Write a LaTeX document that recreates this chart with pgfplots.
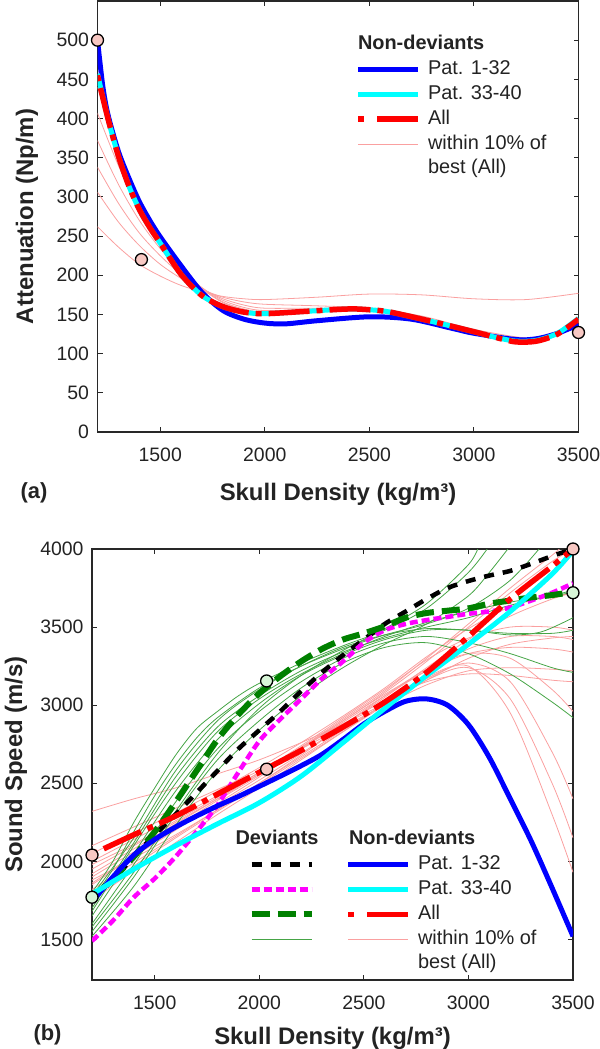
\documentclass[border=0pt]{standalone}
\usepackage{fontspec}
\setmainfont{Liberation Sans}
\usepackage{pgfplots}
\pgfplotsset{compat=1.18}
\definecolor{pinkthin}{RGB}{250,160,160}
\definecolor{greenthin}{RGB}{70,165,70}
\definecolor{dgreen}{RGB}{0,128,0}
\definecolor{cpink}{RGB}{248,200,195}
\definecolor{cgreen}{RGB}{215,245,215}
\definecolor{spine}{RGB}{40,40,40}
\definecolor{txt}{RGB}{35,35,35}
\definecolor{cBlue}{RGB}{0,0,255}
\definecolor{cCyan}{RGB}{0,255,255}
\definecolor{cRed}{RGB}{255,0,0}
\definecolor{cMag}{RGB}{255,0,255}
\pgfplotsset{
 base/.style={
  scale only axis, width=481bp, height=431bp,
  xmin=1200, xmax=3500,
  xtick={1500,2000,2500,3000,3500},
  tick align=inside, major tick length=5bp,
  axis line style={spine, line width=1.3bp},
  tick style={spine, line width=1.1bp},
  /pgf/number format/assume math mode=true,
  /pgf/number format/set thousands separator={},
  tick label style={font=\fontsize{19.5}{22}\selectfont, text=txt},
  xticklabel style={yshift=-12bp},
  yticklabel style={xshift=-5bp},
  label style={font=\bfseries\fontsize{24}{28}\selectfont, text=txt},
  legend style={draw=none, fill=none, font=\fontsize{20}{23}\selectfont, text=txt,
    column sep=0pt, row sep=3bp, inner sep=0pt,
    nodes={inner xsep=7bp, inner ysep=1bp, text height=15bp, text depth=5bp}},
  legend cell align=left,
  legend image code/.code={\draw[#1] (0bp,0bp) -- (60bp,0bp);},
 },
 thinp/.style={pinkthin, line width=0.8bp, smooth, forget plot},
 thing/.style={greenthin, line width=0.8bp, smooth, forget plot},
 blueL/.style={cBlue, line width=5bp},
 cyanL/.style={cCyan, line width=5bp},
 redL/.style={cRed, line width=5.5bp, dash pattern=on 6bp off 7bp on 41bp off 7bp},
 redLeg/.style={cRed, line width=5.5bp, dash pattern=on 6bp off 13bp on 41bp off 13bp},
 blackL/.style={black, line width=4.5bp, dash pattern=on 10bp off 9bp},
 magL/.style={cMag, line width=4.5bp, dash pattern=on 8bp off 4bp},
 greenL/.style={dgreen, line width=6bp, dash pattern=on 18bp off 8bp},
}
\begin{document}
\begin{tikzpicture}
\path[use as bounding box] (0,0) rectangle (600bp,-1049bp);
% ---------------- (a) ----------------
\begin{axis}[base, at={(97.5bp,-1bp)}, anchor=north west,
  ymin=0, ymax=550, ytick={0,50,...,500},
  xlabel={Skull Density (kg/m³)}, ylabel={Attenuation (Np/m)},
  xlabel style={at={(axis description cs:0.5,0)}, anchor=center, yshift=-62bp},
  ylabel style={at={(axis description cs:-0.1466,0.5)}, anchor=center},
  legend style={at={(0.536,0.926)}, anchor=north west}]
\addplot[thinp] coordinates {(1200,262)(1300,236)(1400,214)(1500,199)(1600,187)(1700,179)(1800,173)(1900,170)(2000,169)(2250,172)(2500,176)(2750,175)(3000,170)(3250,169)(3500,177)};
\addplot[thinp] coordinates {(1200,306)(1300,268)(1400,238)(1500,214)(1600,196)(1700,182)(1800,172)(1900,166)(2000,163)(2250,161)(2500,158)(2750,148)(3000,131)(3250,120)(3400,124)(3500,138)};
\addplot[thinp] coordinates {(1200,338)(1300,292)(1400,254)(1500,225)(1600,201)(1700,183)(1800,170)(1900,162)(2000,158)(2250,158)(2500,157)(2750,146)(3000,129)(3250,117)(3400,124)(3500,140)};
\addplot[thinp] coordinates {(1200,372)(1300,316)(1400,270)(1500,234)(1600,205)(1700,184)(1800,168)(1900,159)(2000,155)(2250,156)(2500,156)(2750,145)(3000,128)(3250,116)(3400,124)(3500,141)};
\addplot[thinp] coordinates {(1200,407)(1300,340)(1400,285)(1500,242)(1600,208)(1700,184)(1800,166)(1900,157)(2000,153)(2250,155)(2500,156)(2750,145)(3000,128)(3250,115)(3400,125)(3500,142)};
\addplot[thinp] coordinates {(1200,440)(1300,362)(1400,298)(1500,248)(1600,210)(1700,183)(1800,165)(1900,156)(2000,152)(2250,155)(2500,156)(2750,145)(3000,128)(3250,115)(3400,125)(3500,143)};
\addplot[blueL, smooth, forget plot] coordinates {(1200,500)(1225,442)(1250,405)(1300,358)(1350,324)(1400,294)(1450,270)(1500,249)(1600,212)(1700,178)(1800,155)(1900,144)(2000,139)(2100,138)(2250,142)(2500,147)(2700,144)(2900,132)(3000,126)(3200,118)(3300,119)(3400,126)(3500,137)};
\addplot[cyanL, smooth, forget plot] coordinates {(1200,457)(1250,400)(1300,352)(1350,314)(1400,284)(1450,261)(1500,241)(1600,201)(1700,174)(1800,160)(1900,153)(2000,151)(2200,154)(2400,157)(2500,156)(2600,153)(2800,141)(3000,128)(3100,121)(3200,116)(3300,117)(3400,126)(3500,145)};
\addplot[redL, smooth, forget plot] coordinates {(1200,455)(1250,400)(1300,352)(1350,314)(1400,284)(1450,261)(1500,241)(1600,201)(1700,174)(1800,160)(1900,153)(2000,151)(2200,154)(2400,157)(2500,156)(2600,153)(2800,141)(3000,128)(3100,121)(3200,115)(3300,116)(3400,125)(3500,144)};
\addplot[only marks, mark=*, mark size=6bp, mark options={fill=cpink, draw=black, line width=1.3bp}, forget plot] coordinates {(1200,500)(1410,220)(3500,127)};
\addlegendimage{empty legend}\addlegendentry{\hspace*{-70bp}\textbf{Non-deviants}}
\addlegendimage{blueL}\addlegendentry{Pat. 1-32}
\addlegendimage{cyanL}\addlegendentry{Pat. 33-40}
\addlegendimage{redLeg}\addlegendentry{All}
\addlegendimage{pinkthin, line width=0.8bp}\addlegendentry{{\renewcommand{\arraystretch}{1.05}\begin{tabular}[t]{@{}l@{}}within 10\% of\\best (All)\end{tabular}}}
\end{axis}
\node[font=\bfseries\fontsize{22}{26}\selectfont, text=txt, anchor=base west] at (17bp,-498bp) {(a)};
% ---------------- (b) ----------------
\begin{axis}[base, at={(92bp,-549bp)}, anchor=north west,
  ymin=1240, ymax=4000, ytick={1500,2000,...,4000},
  xlabel={Skull Density (kg/m³)}, ylabel={Sound Speed (m/s)},
  xlabel style={at={(axis description cs:0.5,0)}, anchor=center, yshift=-58bp},
  ylabel style={at={(axis description cs:-0.158,0.5)}, anchor=center},
  legend columns=2,
  legend style={at={(0.325,0.352)}, anchor=north west}]
% pink thin
\addplot[thinp] coordinates {(1200,2320)(1400,2400)(1600,2470)(1800,2560)(2000,2650)(2200,2760)(2400,2880)(2600,3010)(2800,3160)(3000,3300)(3200,3390)(3400,3430)(3500,3440)};
\addplot[thinp] coordinates {(1200,1950)(1400,2100)(1600,2250)(1800,2400)(2000,2560)(2200,2730)(2400,2900)(2600,3080)(2800,3280)(3000,3500)(3200,3720)(3400,3920)(3500,4000)};
\addplot[thinp] coordinates {(1200,1900)(1400,2060)(1600,2210)(1800,2360)(2000,2520)(2200,2690)(2400,2870)(2600,3050)(2800,3240)(3000,3420)(3200,3570)(3400,3680)(3500,3720)};
\addplot[thinp] coordinates {(1200,1850)(1400,2030)(1600,2200)(1800,2370)(2000,2540)(2200,2720)(2400,2900)(2600,3070)(2800,3220)(3000,3330)(3200,3370)(3400,3360)(3500,3340)};
\addplot[thinp] coordinates {(1200,2000)(1400,2140)(1600,2280)(1800,2420)(2000,2570)(2200,2730)(2400,2880)(2600,3030)(2800,3150)(3000,3200)(3200,3190)(3400,3160)(3500,3150)};
\addplot[thinp] coordinates {(1200,1880)(1400,2020)(1600,2170)(1800,2330)(2000,2500)(2200,2680)(2400,2870)(2600,3060)(2800,3230)(3000,3330)(3200,3300)(3400,3100)(3500,2960)};
\addplot[thinp] coordinates {(1200,1820)(1400,1990)(1600,2160)(1800,2330)(2000,2500)(2200,2670)(2400,2840)(2600,3010)(2800,3170)(3000,3270)(3200,3150)(3400,2700)(3500,2400)};
\addplot[thinp] coordinates {(1200,1780)(1400,1970)(1600,2150)(1800,2320)(2000,2490)(2200,2660)(2400,2830)(2600,3000)(2800,3160)(3000,3240)(3200,3040)(3400,2500)(3500,2150)};
\addplot[thinp] coordinates {(1200,1750)(1400,1940)(1600,2120)(1800,2300)(2000,2470)(2200,2650)(2400,2830)(2600,3010)(2800,3180)(3000,3250)(3200,2950)(3400,2300)(3500,1930)};
\addplot[thinp] coordinates {(1200,2050)(1400,2180)(1600,2310)(1800,2450)(2000,2600)(2200,2760)(2400,2930)(2600,3110)(2800,3310)(3000,3490)(3200,3630)(3400,3700)(3500,3710)};
\addplot[thinp] coordinates {(1200,1980)(1400,2110)(1600,2260)(1800,2410)(2000,2570)(2200,2740)(2400,2920)(2600,3100)(2800,3290)(3000,3430)(3200,3500)(3400,3500)(3500,3480)};
\addplot[thinp] coordinates {(1200,1920)(1400,2080)(1600,2240)(1800,2400)(2000,2560)(2200,2730)(2400,2910)(2600,3090)(2800,3300)(3000,3520)(3200,3750)(3400,3960)(3450,4020)};
\addplot[thinp] coordinates {(1200,2100)(1400,2220)(1600,2340)(1800,2460)(2000,2580)(2200,2720)(2400,2860)(2600,3000)(2800,3130)(3000,3220)(3200,3240)(3400,3230)(3500,3220)};
\addplot[thinp] coordinates {(1200,1860)(1400,2040)(1600,2220)(1800,2390)(2000,2550)(2200,2720)(2400,2890)(2600,3060)(2800,3220)(3000,3360)(3200,3440)(3400,3440)(3500,3420)};
% green thin
\addplot[thing] coordinates {(1200,1800)(1300,2000)(1400,2250)(1500,2470)(1600,2680)(1700,2850)(1800,2960)(1900,3060)(2000,3140)(2200,3270)(2400,3380)(2600,3480)(2800,3620)(3000,3850)(3100,4020)};
\addplot[thing] coordinates {(1200,1750)(1300,1950)(1400,2190)(1500,2420)(1600,2620)(1700,2790)(1800,2920)(2000,3110)(2200,3250)(2400,3360)(2600,3450)(2800,3520)(3000,3620)(3200,3800)(3350,4020)};
\addplot[thing] coordinates {(1200,1700)(1400,2120)(1600,2540)(1800,2860)(2000,3060)(2200,3220)(2400,3340)(2600,3430)(2800,3500)(3000,3560)(3200,3640)(3400,3700)(3500,3720)};
\addplot[thing] coordinates {(1200,1650)(1400,2050)(1600,2450)(1800,2780)(2000,3010)(2200,3190)(2400,3320)(2600,3420)(2800,3480)(3000,3480)(3200,3450)(3350,3470)(3500,3560)};
\addplot[thing] coordinates {(1200,1600)(1400,1980)(1600,2380)(1800,2720)(2000,2960)(2200,3150)(2400,3300)(2600,3400)(2800,3440)(3000,3400)(3200,3330)(3400,3240)(3500,3210)};
\addplot[thing] coordinates {(1200,1550)(1400,1900)(1600,2300)(1800,2650)(2000,2900)(2200,3110)(2400,3270)(2600,3370)(2800,3400)(3000,3330)(3200,3200)(3400,3020)(3500,2920)};
\addplot[thing] coordinates {(1200,1520)(1400,1840)(1600,2230)(1800,2580)(2000,2840)(2200,3060)(2400,3240)(2600,3390)(2800,3520)(3000,3700)(3100,3850)(3200,4020)};
\addplot[thing] coordinates {(1200,1580)(1400,1930)(1600,2320)(1800,2690)(2000,2980)(2200,3190)(2400,3350)(2600,3490)(2800,3650)(3000,3900)(3050,4020)};
\addplot[thing] coordinates {(1200,1780)(1400,2150)(1600,2580)(1800,2900)(2000,3100)(2200,3250)(2400,3370)(2600,3450)(2800,3490)(3000,3480)(3200,3460)(3400,3460)(3500,3480)};
\addplot[thing] coordinates {(1200,1680)(1400,2100)(1600,2500)(1800,2830)(2000,3040)(2200,3200)(2400,3330)(2600,3440)(2800,3530)(3000,3600)(3200,3660)(3400,3700)(3500,3740)};
% deviants
\addplot[blackL, smooth, forget plot] coordinates {(1200,1760)(1300,1880)(1400,2030)(1500,2170)(1600,2300)(1700,2440)(1800,2580)(1900,2720)(2000,2840)(2100,2960)(2200,3090)(2300,3210)(2400,3320)(2500,3420)(2600,3520)(2700,3600)(2800,3680)(2900,3750)(3000,3795)(3100,3830)(3200,3860)(3300,3905)(3400,3955)(3500,4000)};
\addplot[magL, smooth, forget plot] coordinates {(1200,1490)(1300,1620)(1400,1770)(1500,1890)(1600,2030)(1700,2190)(1800,2360)(1900,2570)(2000,2770)(2100,2910)(2200,3040)(2300,3170)(2400,3280)(2500,3400)(2600,3480)(2700,3520)(2800,3545)(2900,3565)(3000,3585)(3100,3600)(3200,3625)(3300,3670)(3400,3720)(3500,3780)};
\addplot[greenL, smooth, forget plot] coordinates {(1200,1770)(1300,1890)(1400,2030)(1500,2190)(1600,2380)(1700,2580)(1800,2780)(1900,2940)(2000,3075)(2100,3185)(2200,3280)(2300,3360)(2400,3420)(2500,3460)(2600,3505)(2700,3560)(2800,3590)(2900,3605)(3000,3620)(3100,3650)(3200,3670)(3300,3690)(3400,3705)(3500,3725)};
% non-deviants
\addplot[blueL, smooth, forget plot] coordinates {(1200,1740)(1300,1900)(1400,2040)(1500,2140)(1600,2220)(1700,2290)(1800,2355)(1900,2415)(2000,2480)(2100,2545)(2200,2612)(2300,2685)(2400,2780)(2500,2880)(2600,2960)(2700,3025)(2800,3040)(2900,3000)(3000,2875)(3100,2665)(3200,2400)(3300,2130)(3400,1830)(3500,1520)};
\addplot[cyanL, smooth, forget plot] coordinates {(1200,1790)(1400,1950)(1600,2100)(1800,2240)(2000,2375)(2200,2545)(2400,2760)(2600,2980)(2800,3190)(3000,3390)(3200,3600)(3400,3840)(3500,3990)};
\addplot[redL, smooth, forget plot] coordinates {(1200,2045)(1400,2170)(1600,2290)(1800,2430)(2000,2570)(2200,2710)(2400,2860)(2600,3020)(2800,3210)(3000,3440)(3200,3680)(3400,3890)(3500,4000)};
% circles
\addplot[only marks, mark=*, mark size=6bp, mark options={fill=cpink, draw=black, line width=1.3bp}, forget plot] coordinates {(1200,2040)(2035,2590)(3500,4000)};
\addplot[only marks, mark=*, mark size=6bp, mark options={fill=cgreen, draw=black, line width=1.3bp}, forget plot] coordinates {(1200,1770)(2035,3155)(3500,3720)};
% legend
\addlegendimage{empty legend}\addlegendentry{\hspace*{-86bp}\textbf{Deviants}}
\addlegendimage{empty legend}\addlegendentry{\hspace*{-69bp}\textbf{Non-deviants}}
\addlegendimage{blackL}\addlegendentry{\hspace*{17bp}}
\addlegendimage{blueL}\addlegendentry{Pat. 1-32}
\addlegendimage{magL}\addlegendentry{\hspace*{17bp}}
\addlegendimage{cyanL}\addlegendentry{Pat. 33-40}
\addlegendimage{greenL}\addlegendentry{\hspace*{17bp}}
\addlegendimage{redLeg}\addlegendentry{All}
\addlegendimage{greenthin, line width=0.8bp}\addlegendentry{\hspace*{17bp}}
\addlegendimage{pinkthin, line width=0.8bp}\addlegendentry{{\renewcommand{\arraystretch}{1.05}\begin{tabular}[t]{@{}l@{}}within 10\% of\\best (All)\end{tabular}}}
\end{axis}
\node[font=\bfseries\fontsize{22}{26}\selectfont, text=txt, anchor=base west] at (30bp,-1040bp) {(b)};
\end{tikzpicture}
\end{document}
